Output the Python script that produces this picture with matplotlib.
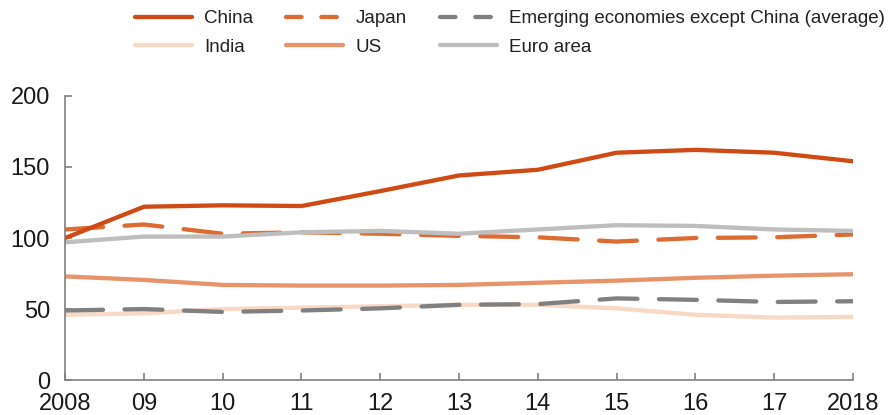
import matplotlib.pyplot as plt
import numpy as np

plt.rcParams['font.family'] = ['Liberation Sans', 'DejaVu Sans']

years = np.arange(2008, 2019)
year_labels = ['2008', '09', '10', '11', '12', '13', '14', '15', '16', '17', '2018']

china = [100, 122, 123, 122.5, 133, 144, 148, 160, 162, 160, 154]
japan = [106, 109.5, 103, 104, 103, 101.5, 100.5, 97.5, 100, 100.5, 102.5]
euro = [97, 101, 101, 104, 105, 103, 106, 109, 108.5, 106, 105]
us = [73, 70.5, 67, 66.5, 66.5, 67, 68.5, 70, 72, 73.5, 74.5]
emerging = [49, 50, 48, 49, 50.5, 53, 53.5, 57.5, 56.5, 55, 55.5]
india = [46, 47, 50, 51, 52, 53, 53, 50.5, 46, 44, 44.5]


def main():
    fig = plt.figure(figsize=(8.93, 4.15), dpi=100)
    ax = fig.add_axes([0.073, 0.084, 0.882, 0.685])

    lw = 3.1
    dash = (0, (8.8, 5.0))
    h_india, = ax.plot(years, india, color='#F8D9C6', lw=lw, solid_capstyle='round', label='India')
    h_em, = ax.plot(years, emerging, color='#808080', lw=lw, ls=dash, dash_capstyle='round',
                    label='Emerging economies except China (average)')
    h_us, = ax.plot(years, us, color='#E8946A', lw=lw, solid_capstyle='round', label='US')
    h_japan, = ax.plot(years, japan, color='#DE6B32', lw=lw, ls=dash, dash_capstyle='round',
                       label='Japan')
    h_euro, = ax.plot(years, euro, color='#BEBEBE', lw=lw, solid_capstyle='round', label='Euro area')
    h_china, = ax.plot(years, china, color='#CF4A14', lw=lw, solid_capstyle='round', label='China')

    ax.set_xlim(2008, 2018)
    ax.set_ylim(0, 200)
    ax.set_xticks(years)
    ax.set_xticklabels(year_labels)
    ax.set_yticks([0, 50, 100, 150, 200])
    for s in ['top', 'right']:
        ax.spines[s].set_visible(False)
    for s in ['left', 'bottom']:
        ax.spines[s].set_color('#808080')
        ax.spines[s].set_linewidth(1.2)
    ax.tick_params(direction='in', length=5, width=1.2, color='#808080', labelsize=17, labelcolor='#1a1a1a')
    ax.tick_params(axis='y', pad=11)
    ax.tick_params(axis='x', pad=9)

    handles = [h_china, h_india, h_japan, h_us, h_em, h_euro]
    fig.legend(handles=handles, labels=[h.get_label() for h in handles], ncol=3,
               loc='upper left', bbox_to_anchor=(0.141, 0.998), frameon=False, borderpad=0,
               fontsize=13.5, labelcolor='#222222',
               handlelength=3.04, columnspacing=1.76, labelspacing=0.6, handletextpad=0.64)
    leg = fig.legends[0]
    for line in leg.get_lines():
        if line.get_linestyle() != '-':
            line.set_linestyle((0, (3.6, 4.6)))

    fig.savefig('out.png', dpi=100)


if __name__ == '__main__':
    main()
